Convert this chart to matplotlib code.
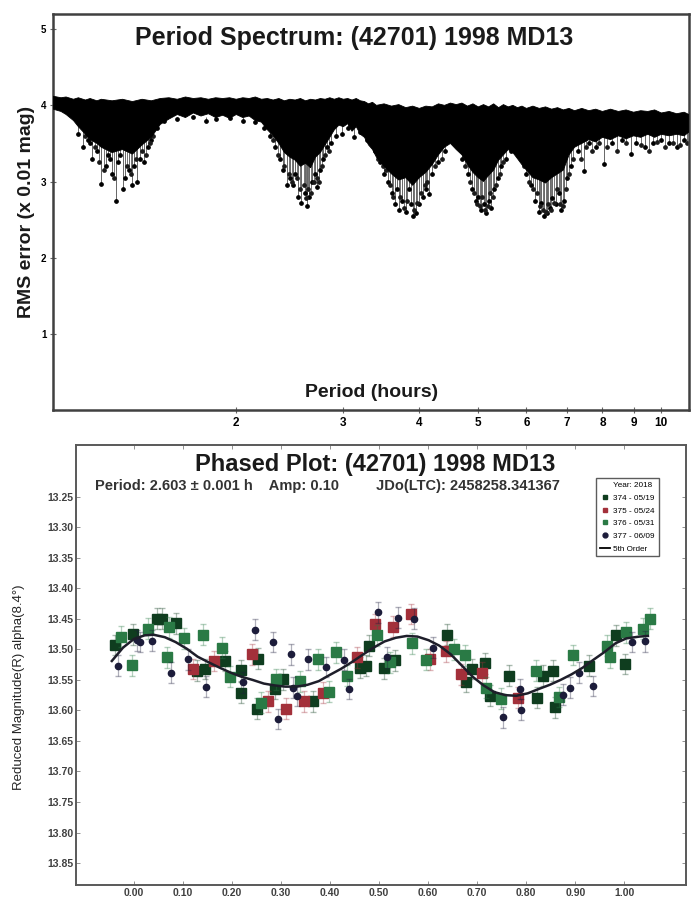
import matplotlib
matplotlib.use('Agg')
import matplotlib.pyplot as plt
from matplotlib.lines import Line2D
from matplotlib.ticker import NullLocator

plt.rcParams['font.family'] = ['Liberation Sans', 'DejaVu Sans']

# ---- period spectrum ----
# dense core of the scan: upper and lower edge of the dark band
band_period = [1.00, 1.03, 1.05, 1.08, 1.10, 1.13, 1.15, 1.18, 1.20, 1.25,
               1.30, 1.35, 1.40, 1.45, 1.50, 1.55, 1.60, 1.65, 1.70, 1.75,
               1.80, 1.85, 1.90, 1.95, 2.00, 2.05, 2.10, 2.15, 2.20, 2.25,
               2.30, 2.35, 2.40, 2.45, 2.50, 2.55, 2.60, 2.65, 2.70, 2.75,
               2.80, 2.85, 2.90, 2.95, 3.00, 3.05, 3.10, 3.15, 3.20, 3.25,
               3.30, 3.35, 3.40, 3.50, 3.60, 3.70, 3.80, 3.90, 4.00, 4.10,
               4.20, 4.30, 4.40, 4.50, 4.60, 4.70, 4.80, 4.90, 5.00, 5.10,
               5.20, 5.30, 5.40, 5.50, 5.60, 5.70, 5.80, 5.90, 6.00, 6.15,
               6.30, 6.45, 6.60, 6.75, 6.90, 7.05, 7.20, 7.40, 7.60, 7.80,
               8.00, 8.25, 8.50, 8.75, 9.00, 9.25, 9.50, 9.75, 10.0, 10.3,
               10.6, 10.9, 11.1]
band_top = [4.12, 4.10, 4.11, 4.08, 4.10, 4.07, 4.09, 4.06, 4.08, 4.06,
            4.08, 4.05, 4.08, 4.06, 4.09, 4.10, 4.08, 4.11, 4.09, 4.10,
            4.08, 4.10, 4.09, 4.10, 4.08, 4.10, 4.09, 4.11, 4.08, 4.09,
            4.07, 4.09, 4.06, 4.08, 4.07, 4.09, 4.06, 4.08, 4.07, 4.09,
            4.08, 4.10, 4.08, 4.10, 4.08, 4.09, 4.07, 4.09, 4.06, 4.05,
            4.02, 4.04, 4.00, 4.02, 3.99, 4.01, 3.97, 3.99, 3.96, 3.99,
            3.98, 4.02, 4.00, 4.03, 4.01, 4.03, 3.99, 4.02, 3.98, 4.01,
            3.98, 4.02, 3.97, 4.01, 3.98, 4.00, 3.97, 3.99, 3.96, 3.99,
            3.96, 3.98, 3.95, 3.97, 3.94, 3.96, 3.93, 3.96, 3.93, 3.95,
            3.92, 3.95, 3.92, 3.94, 3.91, 3.93, 3.92, 3.94, 3.90, 3.92,
            3.89, 3.91, 3.88]
band_bottom = [3.95, 3.92, 3.88, 3.80, 3.72, 3.62, 3.55, 3.50, 3.45, 3.38,
               3.42, 3.36, 3.48, 3.58, 3.75, 3.82, 3.88, 3.84, 3.90, 3.86,
               3.89, 3.84, 3.87, 3.83, 3.88, 3.84, 3.86, 3.80, 3.78, 3.68,
               3.60, 3.50, 3.38, 3.32, 3.28, 3.20, 3.24, 3.18, 3.32, 3.38,
               3.48, 3.58, 3.68, 3.74, 3.72, 3.76, 3.66, 3.72, 3.62, 3.58,
               3.48, 3.42, 3.32, 3.20, 3.10, 3.02, 3.05, 2.95, 3.05, 3.12,
               3.22, 3.35, 3.45, 3.50, 3.42, 3.35, 3.22, 3.12, 3.05, 3.00,
               3.08, 3.15, 3.28, 3.35, 3.42, 3.38, 3.30, 3.22, 3.15, 3.05,
               3.02, 2.98, 3.05, 3.10, 3.15, 3.35, 3.45, 3.50, 3.55, 3.52,
               3.58, 3.55, 3.60, 3.56, 3.60, 3.58, 3.62, 3.58, 3.62, 3.60,
               3.62, 3.60, 3.65]

# deep single minima below the band
spike_period = [1.10, 1.12, 1.14, 1.15, 1.16, 1.18, 1.20, 1.22, 1.23, 1.24, 1.25, 1.27,
                1.28, 1.29, 1.30, 1.31, 1.33, 1.35, 1.36, 1.375, 1.39, 1.41, 1.43, 1.45,
                1.48, 1.52, 1.60, 1.70, 1.78, 1.85, 1.95, 2.05, 2.15,
                2.22, 2.27, 2.32, 2.36, 2.39, 2.42, 2.45, 2.48, 2.50, 2.53, 2.56, 2.59,
                2.61, 2.63, 2.66, 2.69, 2.72, 2.75, 2.78, 2.82, 2.86, 2.92, 2.98, 3.05,
                3.12, 3.20, 3.28,
                3.38, 3.45, 3.50, 3.55, 3.60, 3.65, 3.68, 3.70, 3.75, 3.80, 3.85, 3.87,
                3.90, 3.95, 4.00, 4.05, 4.10, 4.15, 4.20, 4.30, 4.40,
                4.70, 4.80, 4.88, 4.95, 5.00, 5.05, 5.10, 5.15, 5.20, 5.25, 5.30, 5.38,
                5.45, 5.55, 5.65,
                5.90, 6.00, 6.10, 6.20, 6.30, 6.35, 6.42, 6.48, 6.55, 6.62, 6.70, 6.78,
                6.85, 6.92, 7.00, 7.10,
                7.30, 7.45, 7.60, 7.80, 8.05, 8.30, 8.60, 8.90, 9.10, 9.40, 9.70, 10.0,
                10.3, 10.6, 10.9]
spike_low = [3.62, 3.45, 3.55, 3.50, 3.30, 3.40, 2.97, 3.20, 3.35, 3.30, 3.10, 2.75,
             3.25, 3.35, 2.90, 3.05, 3.15, 2.95, 3.20, 3.00, 3.30, 3.25, 3.45, 3.55,
             3.70, 3.80, 3.82, 3.85, 3.80, 3.82, 3.84, 3.80, 3.78,
             3.70, 3.60, 3.45, 3.30, 3.15, 2.95, 3.05, 2.95, 3.10, 2.80, 2.72, 2.85,
             2.68, 2.80, 3.00, 3.10, 2.93, 3.15, 3.30, 3.45, 3.50, 3.60, 3.62, 3.70,
             3.58, 3.65, 3.55,
             3.40, 3.25, 3.10, 3.00, 2.85, 2.70, 2.90, 2.62, 2.75, 2.60, 2.90, 2.70,
             2.55, 2.58, 2.70, 2.80, 2.90, 2.84, 3.10, 3.25, 3.40,
             3.30, 3.10, 2.90, 2.75, 2.80, 2.62, 2.70, 2.58, 2.75, 2.65, 2.90, 3.05,
             3.20, 3.30, 3.40,
             3.30, 3.10, 2.95, 2.75, 2.60, 2.72, 2.55, 2.58, 2.65, 2.78, 2.70, 2.85,
             2.62, 2.75, 3.05, 3.20,
             3.40, 3.14, 3.50, 3.45, 3.23, 3.50, 3.55, 3.36, 3.50, 3.45, 3.50, 3.55,
             3.50, 3.45, 3.55]

# shorter minima inside the dips
spike2_period = [1.13, 1.17, 1.19, 1.21, 1.26, 1.32, 1.34, 1.37, 1.40, 1.42, 1.44, 1.46,
                 2.30, 2.34, 2.40, 2.44, 2.47, 2.52, 2.55, 2.58, 2.60, 2.62, 2.65, 2.68,
                 2.71, 2.74, 2.77, 2.80, 2.84,
                 3.42, 3.48, 3.52, 3.58, 3.62, 3.72, 3.78, 3.82, 3.92, 3.97, 4.02, 4.08,
                 4.12, 4.25, 4.35,
                 4.75, 4.85, 4.92, 4.98, 5.03, 5.08, 5.12, 5.18, 5.22, 5.28, 5.34, 5.42,
                 5.50,
                 5.95, 6.05, 6.15, 6.25, 6.32, 6.38, 6.45, 6.52, 6.58, 6.66, 6.74, 6.82,
                 6.88, 6.96, 7.05, 7.15,
                 7.20, 7.38, 7.52, 7.70, 7.90, 8.15, 8.45, 8.75, 9.25, 9.55, 9.85, 10.15,
                 10.45, 10.75, 11.0]
spike2_low = [3.60, 3.45, 3.25, 3.15, 3.05, 3.20, 3.10, 3.30, 3.40, 3.35, 3.50, 3.60,
              3.55, 3.35, 3.20, 3.10, 3.00, 3.05, 2.90, 2.95, 2.78, 2.90, 2.85, 3.00,
              3.05, 3.00, 3.20, 3.35, 3.40,
              3.30, 3.20, 3.15, 2.95, 2.80, 2.80, 2.65, 2.75, 2.62, 2.72, 2.85, 2.95,
              3.00, 3.20, 3.30,
              3.20, 3.00, 2.85, 2.70, 2.68, 2.80, 2.62, 2.68, 2.85, 2.80, 2.95, 3.10,
              3.25,
              3.20, 3.00, 2.90, 2.85, 2.68, 2.62, 2.60, 2.70, 2.62, 2.72, 2.90, 2.70,
              2.68, 2.90, 3.10, 3.30,
              3.50, 3.30, 3.45, 3.40, 3.50, 3.45, 3.40, 3.50, 3.48, 3.40, 3.52, 3.45,
              3.50, 3.48, 3.50]

spec_xticks = [2, 3, 4, 5, 6, 7, 8, 9, 10]
spec_yticks = [1, 2, 3, 4, 5]

# ---- phased lightcurve ----
s374_phase = [-0.039, -0.002, 0.048, 0.058, 0.085, 0.128, 0.146, 0.186, 0.218, 0.218, 0.253,
              0.251, 0.287, 0.305, 0.366, 0.462, 0.473, 0.480, 0.509, 0.532, 0.639, 0.677,
              0.690, 0.715, 0.726, 0.765, 0.822, 0.835, 0.855, 0.858, 0.928, 0.982, 1.002]
s374_mag = [13.493, 13.475, 13.450, 13.450, 13.457, 13.535, 13.532, 13.519, 13.534, 13.571,
            13.515, 13.597, 13.565, 13.549, 13.585, 13.530, 13.527, 13.494, 13.531, 13.518,
            13.476, 13.553, 13.532, 13.523, 13.576, 13.543, 13.579, 13.543, 13.535, 13.595,
            13.527, 13.477, 13.524]

s375_phase = [0.121, 0.164, 0.240, 0.274, 0.311, 0.347, 0.386, 0.455, 0.491, 0.529, 0.565,
              0.604, 0.637, 0.666, 0.709, 0.783]
s375_mag = [13.532, 13.519, 13.508, 13.585, 13.597, 13.585, 13.571, 13.513, 13.459, 13.463,
            13.442, 13.516, 13.503, 13.541, 13.538, 13.579]

s376_phase = [-0.027, -0.004, 0.029, 0.067, 0.072, 0.103, 0.141, 0.179, 0.196, 0.260, 0.290,
              0.338, 0.375, 0.397, 0.413, 0.435, 0.496, 0.523, 0.568, 0.595, 0.652, 0.675,
              0.717, 0.749, 0.819, 0.867, 0.895, 0.964, 0.971, 1.004, 1.038, 1.052]
s376_mag = [13.479, 13.526, 13.466, 13.513, 13.464, 13.482, 13.476, 13.497, 13.545, 13.587,
            13.549, 13.552, 13.516, 13.569, 13.505, 13.543, 13.477, 13.521, 13.490, 13.517,
            13.500, 13.510, 13.563, 13.581, 13.535, 13.578, 13.509, 13.494, 13.513, 13.472,
            13.466, 13.450]

s377_phase = [-0.033, 0.006, 0.012, 0.036, 0.076, 0.110, 0.148, 0.222, 0.247, 0.283, 0.294,
              0.320, 0.325, 0.332, 0.354, 0.392, 0.428, 0.439, 0.498, 0.516, 0.538, 0.571,
              0.610, 0.753, 0.787, 0.789, 0.874, 0.890, 0.908, 0.937, 1.016, 1.043]
s377_mag = [13.527, 13.485, 13.488, 13.486, 13.538, 13.516, 13.561, 13.554, 13.468, 13.488,
            13.614, 13.508, 13.563, 13.576, 13.516, 13.529, 13.517, 13.565, 13.439, 13.513,
            13.448, 13.450, 13.497, 13.611, 13.565, 13.599, 13.574, 13.563, 13.538, 13.560,
            13.488, 13.487]
mag_err = 0.017

fit_phase = [-0.045, -0.022, 0.000, 0.022, 0.040, 0.063, 0.085, 0.108, 0.130, 0.152, 0.175,
             0.197, 0.220, 0.242, 0.265, 0.287, 0.309, 0.332, 0.354, 0.377, 0.399, 0.422,
             0.444, 0.466, 0.489, 0.511, 0.534, 0.556, 0.578, 0.601, 0.623, 0.646, 0.668,
             0.691, 0.713, 0.735, 0.758, 0.780, 0.803, 0.825, 0.848, 0.870, 0.892, 0.915,
             0.937, 0.960, 0.982, 1.004, 1.031, 1.048]
fit_mag = [13.519, 13.497, 13.483, 13.477, 13.476, 13.480, 13.488, 13.499, 13.512, 13.521,
           13.530, 13.538, 13.545, 13.550, 13.556, 13.559, 13.561, 13.561, 13.558, 13.552,
           13.542, 13.532, 13.521, 13.509, 13.497, 13.487, 13.481, 13.478, 13.479, 13.485,
           13.494, 13.508, 13.526, 13.545, 13.559, 13.570, 13.575, 13.576, 13.572, 13.565,
           13.558, 13.550, 13.541, 13.530, 13.517, 13.504, 13.490, 13.482, 13.479, 13.478]

phase_xticks = [0.0, 0.1, 0.2, 0.3, 0.4, 0.5, 0.6, 0.7, 0.8, 0.9, 1.0]
mag_yticks = [13.25, 13.30, 13.35, 13.40, 13.45, 13.50, 13.55, 13.60, 13.65, 13.70,
              13.75, 13.80, 13.85]

c374 = '#0f3d1f'
c375 = '#a3303a'
c376 = '#2a7a45'
c377 = '#1c1c3a'

fig = plt.figure(figsize=(6.91, 9.02), dpi=100)

# ---------------- top: period spectrum ----------------
ax1 = fig.add_axes([0.077, 0.5455, 0.920, 0.439])
ax1.vlines(spike_period, spike_low, 3.85, color='0.4', lw=0.7, zorder=2)
ax1.vlines(spike2_period, spike2_low, 3.80, color='0.45', lw=0.7, zorder=2)
ax1.plot(spike_period, spike_low, 'o', ms=2.4, color='black', zorder=2)
ax1.plot(spike2_period, spike2_low, 'o', ms=2.4, color='0.1', zorder=2)
ax1.fill(band_period + band_period[::-1], band_top + band_bottom[::-1],
         color='black', lw=0.6, zorder=3)
ax1.set_xscale('log')
ax1.set_xlim(1.0, 11.1)
ax1.set_ylim(0, 5.2)
ax1.set_xticks(spec_xticks)
ax1.set_xticklabels([str(t) for t in spec_xticks], fontsize=8.5, fontweight='bold')
ax1.xaxis.set_minor_locator(NullLocator())
ax1.set_yticks(spec_yticks)
ax1.set_yticklabels([str(t) for t in spec_yticks], fontsize=7, fontweight='bold')
ax1.tick_params(axis='both', direction='inout', length=4, width=0.8, color='0.4', pad=3)
for sp in ax1.spines.values():
    sp.set_linewidth(1.8)
    sp.set_color('0.25')
ax1.text(0.473, 0.94, 'Period Spectrum: (42701) 1998 MD13', transform=ax1.transAxes,
         ha='center', va='center', fontsize=18, fontweight='bold', color='0.1')
ax1.text(0.50, 0.045, 'Period (hours)', transform=ax1.transAxes,
         ha='center', va='center', fontsize=14, fontweight='bold', color='0.1')
ax1.set_ylabel('RMS error (x 0.01 mag)', fontsize=14, fontweight='bold', labelpad=4,
               color='0.1')

# ---------------- bottom: phased plot ----------------
ax2 = fig.add_axes([0.110, 0.0188, 0.883, 0.488])
series = [(s374_phase, s374_mag, c374, 's', 6.5, '374 - 05/19'),
          (s375_phase, s375_mag, c375, 's', 6.5, '375 - 05/24'),
          (s376_phase, s376_mag, c376, 's', 6.5, '376 - 05/31'),
          (s377_phase, s377_mag, c377, 'o', 4.5, '377 - 06/09')]
handles = [Line2D([], [], ls='none', label='Year: 2018')]
for ph, mg, col, mk, ms, lab in series:
    ax2.errorbar(ph, mg, yerr=mag_err, fmt='none', ecolor=col, alpha=0.35,
                 elinewidth=0.9, capsize=2)
    ax2.plot(ph, mg, mk, ms=ms, color=col, mec=col)
    handles.append(Line2D([], [], ls='none', marker=mk, ms=3.5, color=col, label=lab))
ax2.plot(fit_phase, fit_mag, color='#1e1e2a', lw=1.8)
handles.append(Line2D([], [], color='black', lw=1.3, label='5th Order'))

ax2.set_xlim(-0.118, 1.126)
ax2.set_ylim(13.886, 13.165)
ax2.set_xticks(phase_xticks)
ax2.set_xticklabels(['%.2f' % t for t in phase_xticks], fontsize=7.5, fontweight='bold',
                    color='0.25')
ax2.set_yticks(mag_yticks)
ax2.set_yticklabels(['%.2f' % t for t in mag_yticks], fontsize=7.5, fontweight='bold',
                    color='0.25')
ax2.tick_params(axis='both', direction='in', length=3, width=0.6, color='0.5',
                top=True, right=True, pad=2)
for sp in ax2.spines.values():
    sp.set_linewidth(1.4)
    sp.set_color('0.35')
ax2.text(0.49, 0.955, 'Phased Plot: (42701) 1998 MD13', transform=ax2.transAxes,
         ha='center', va='center', fontsize=17, fontweight='bold', color='0.1')
ax2.text(0.031, 0.907,
         'Period: 2.603 \u00b1 0.001 h    Amp: 0.10         JDo(LTC): 2458258.341367',
         transform=ax2.transAxes, ha='left', va='center', fontsize=10.5, fontweight='bold',
         color='0.2')
ax2.set_ylabel('Reduced Magnitude(R) alpha(8.4\u00b0)', fontsize=9.5, color='0.15')
ax2.yaxis.set_label_coords(-0.083, 0.45)

leg = ax2.legend(handles=handles, loc='upper left', bbox_to_anchor=(0.852, 0.925),
                 fontsize=5.9, frameon=True, fancybox=False, edgecolor='0.2',
                 handlelength=1.3, handletextpad=0.4, borderpad=0.45, labelspacing=0.6,
                 borderaxespad=0)
leg.get_frame().set_linewidth(1.0)
leg.get_texts()[0].set_ha('right')

fig.savefig('out.png', dpi=100)
